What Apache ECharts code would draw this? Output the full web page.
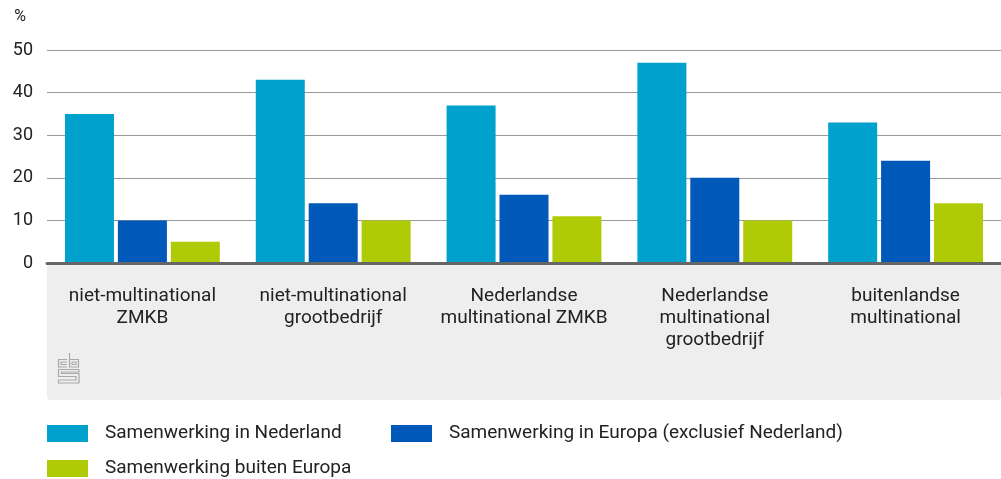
<!DOCTYPE html>
<html>
<head>
<meta charset="utf-8">
<script src="https://cdn.jsdelivr.net/npm/echarts@6/dist/echarts.min.js"></script>
<style>
  html, body { margin: 0; padding: 0; background: #fff; }
  #chart { width: 1001px; height: 479px; }
</style>
</head>
<body>
<div id="chart"></div>
<script>
// Bedrijfstypen (x-as)
const categories = [
  'niet-multinational\nZMKB',
  'niet-multinational\ngrootbedrijf',
  'Nederlandse\nmultinational ZMKB',
  'Nederlandse\nmultinational\ngrootbedrijf',
  'buitenlandse\nmultinational'
];

// Reeksen (%)
const seriesNames = [
  'Samenwerking in Nederland',
  'Samenwerking in Europa (exclusief Nederland)',
  'Samenwerking buiten Europa'
];
const inNederland = [35, 43, 37, 47, 33];
const inEuropa = [10, 14, 16, 20, 24];
const buitenEuropa = [5, 10, 11, 10, 14];

const yTicks = { min: 0, max: 50, interval: 10 };

const colors = ['#00a1cd', '#0058b8', '#afcb05'];
const FONT = 'Roboto';
const TEXT = '#222';

const chart = echarts.init(document.getElementById('chart'), null, { renderer: 'canvas' });

function bar(name, data, color) {
  return {
    name: name,
    type: 'bar',
    data: data,
    barWidth: 49,
    barGap: '8%',
    itemStyle: { color: color },
    z: 3
  };
}

function legendAt(name, left, top) {
  return {
    data: [name],
    left: left,
    top: top,
    padding: 0,
    orient: 'horizontal',
    icon: 'rect',
    itemWidth: 41,
    itemHeight: 17,
    selectedMode: false,
    textStyle: { fontFamily: FONT, fontSize: 19, color: TEXT, padding: [0, 0, 0, 12] }
  };
}

// CBS-beeldmerk in het grijze vlak
const logoColor = '#a8a8a8';
function logoLine(points) {
  return {
    type: 'polyline',
    shape: { points: points },
    style: { stroke: logoColor, lineWidth: 1.2, fill: null },
    silent: true,
    z: 1
  };
}

chart.setOption({
  animation: false,
  textStyle: { fontFamily: FONT },
  grid: { left: 47, right: 0, top: 50, height: 213, containLabel: false },
  legend: [
    legendAt(seriesNames[0], 47, 424),
    legendAt(seriesNames[1], 391, 424),
    legendAt(seriesNames[2], 47, 459)
  ],
  xAxis: {
    type: 'category',
    data: categories,
    axisTick: { show: false },
    axisLine: { lineStyle: { color: '#666', width: 3 } },
    axisLabel: {
      interval: 0,
      margin: 22,
      lineHeight: 22,
      fontSize: 19,
      color: TEXT,
      fontFamily: FONT
    },
    z: 4
  },
  yAxis: {
    type: 'value',
    min: yTicks.min,
    max: yTicks.max,
    interval: yTicks.interval,
    name: '%',
    nameLocation: 'end',
    nameGap: 25,
    nameTextStyle: { fontFamily: FONT, fontSize: 16, color: TEXT, align: 'right', padding: [0, 21, 0, 0] },
    axisLine: { show: false },
    axisTick: { show: false },
    axisLabel: { margin: 14, fontSize: 18, color: TEXT, fontFamily: FONT },
    splitLine: { lineStyle: { color: '#9a9a9a', width: 1 } }
  },
  series: [
    bar(seriesNames[0], inNederland, colors[0]),
    bar(seriesNames[1], inEuropa, colors[1]),
    bar(seriesNames[2], buitenEuropa, colors[2])
  ],
  graphic: [
    {
      type: 'rect',
      shape: { x: 47, y: 264, width: 954, height: 136, r: [0, 0, 4, 4] },
      style: { fill: '#eeeeee' },
      silent: true,
      z: -10
    },
    logoLine([[67, 359.5], [58.5, 359.5], [58.5, 367], [67, 367]]),
    logoLine([[67, 362], [61, 362], [61, 364.5], [67, 364.5]]),
    logoLine([[69.5, 353], [69.5, 367], [78.5, 367], [78.5, 359.5], [69.5, 359.5]]),
    logoLine([[72, 362], [76, 362], [76, 364.5], [72, 364.5], [72, 362]]),
    logoLine([[79, 369.5], [58.5, 369.5], [58.5, 376.5], [76, 376.5], [76, 380], [58.5, 380],
              [58.5, 383], [79, 383], [79, 373.5], [61.5, 373.5], [61.5, 372], [79, 372], [79, 369.5]])
  ]
});
</script>
</body>
</html>
